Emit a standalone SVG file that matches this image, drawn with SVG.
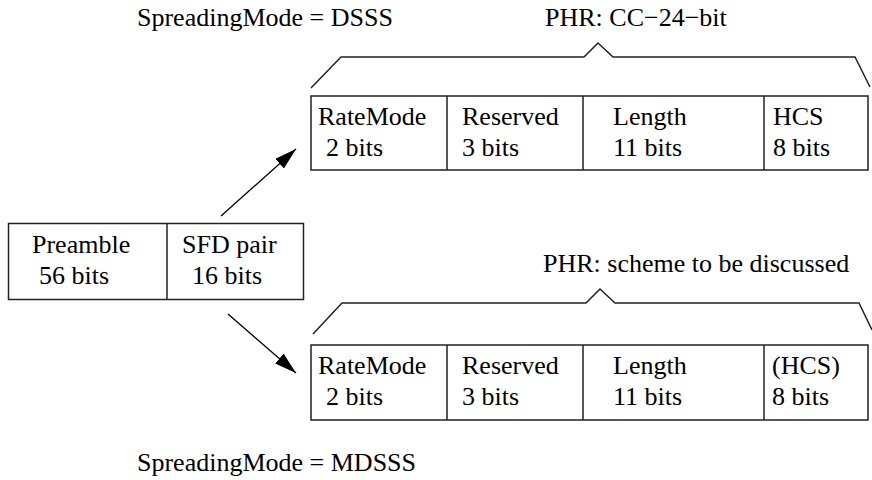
<svg xmlns="http://www.w3.org/2000/svg" width="872" height="480" viewBox="0 0 872 480" style="font-family:'Liberation Serif',serif">
<defs>
<style>
text{font-family:'Liberation Serif',serif;font-size:26px;fill:#000}
.box{fill:#fff;stroke:#222;stroke-width:1.5}
.div{stroke:#222;stroke-width:1.5}
.br{fill:none;stroke:#222;stroke-width:1.5;stroke-linejoin:miter}
.arr{fill:none;stroke:#000;stroke-width:1.3}
</style>
<marker id="ah" markerUnits="userSpaceOnUse" markerWidth="24" markerHeight="16" refX="22" refY="6.5" orient="auto">
<path d="M0,0 L22,6.5 L0,13 Z" fill="#000"/>
</marker>
</defs>
<rect width="872" height="480" fill="#fff"/>
<text x="137" y="26" style="font-family:'Liberation Serif',serif">SpreadingMode = DSSS</text>
<text x="545" y="26" style="font-family:'Liberation Serif',serif">PHR: CC−24−bit</text>
<text x="543" y="272" style="font-family:'Liberation Serif',serif">PHR: scheme to be discussed</text>
<text x="137" y="471" style="font-family:'Liberation Serif',serif">SpreadingMode = MDSSS</text>
<g id="frame_left" style="font-family:'Liberation Serif',serif">
<rect class="box" x="8.5" y="223.5" width="295" height="76"/>
<line class="div" x1="167" y1="223.5" x2="167" y2="299.5"/>
<text x="32" y="253">Preamble</text>
<text x="39" y="284">56 bits</text>
<text x="182" y="253">SFD pair</text>
<text x="192" y="284">16 bits</text>
</g>
<g id="phr_dsss" style="font-family:'Liberation Serif',serif">
<path class="br" d="M311,88 L341,57 L584,57 L598,43 L613,57 L855,57 L870,87"/>
<rect class="box" x="311" y="96" width="557" height="74"/>
<line class="div" x1="447" y1="96" x2="447" y2="170"/>
<line class="div" x1="583" y1="96" x2="583" y2="170"/>
<line class="div" x1="764" y1="96" x2="764" y2="170"/>
<text x="318" y="125">RateMode</text>
<text x="326" y="156">2 bits</text>
<text x="462" y="125">Reserved</text>
<text x="462" y="156">3 bits</text>
<text x="613" y="125">Length</text>
<text x="613" y="156">11 bits</text>
<text x="773" y="125">HCS</text>
<text x="773" y="156">8 bits</text>
</g>
<g id="phr_mdsss" style="font-family:'Liberation Serif',serif">
<path class="br" d="M313,334 L342,303 L586,303 L600,289 L615,303 L859,303 L872,330"/>
<rect class="box" x="311" y="345" width="557" height="75"/>
<line class="div" x1="447" y1="345" x2="447" y2="420"/>
<line class="div" x1="583" y1="345" x2="583" y2="420"/>
<line class="div" x1="764" y1="345" x2="764" y2="420"/>
<text x="318" y="374">RateMode</text>
<text x="326" y="405">2 bits</text>
<text x="462" y="374">Reserved</text>
<text x="462" y="405">3 bits</text>
<text x="613" y="374">Length</text>
<text x="613" y="405">11 bits</text>
<text x="772" y="374">(HCS)</text>
<text x="772" y="405">8 bits</text>
</g>
<g id="connectors">
<line class="arr" x1="221" y1="216" x2="296" y2="149" marker-end="url(#ah)"/>
<line class="arr" x1="228" y1="314" x2="296" y2="373" marker-end="url(#ah)"/>
</g>
</svg>
